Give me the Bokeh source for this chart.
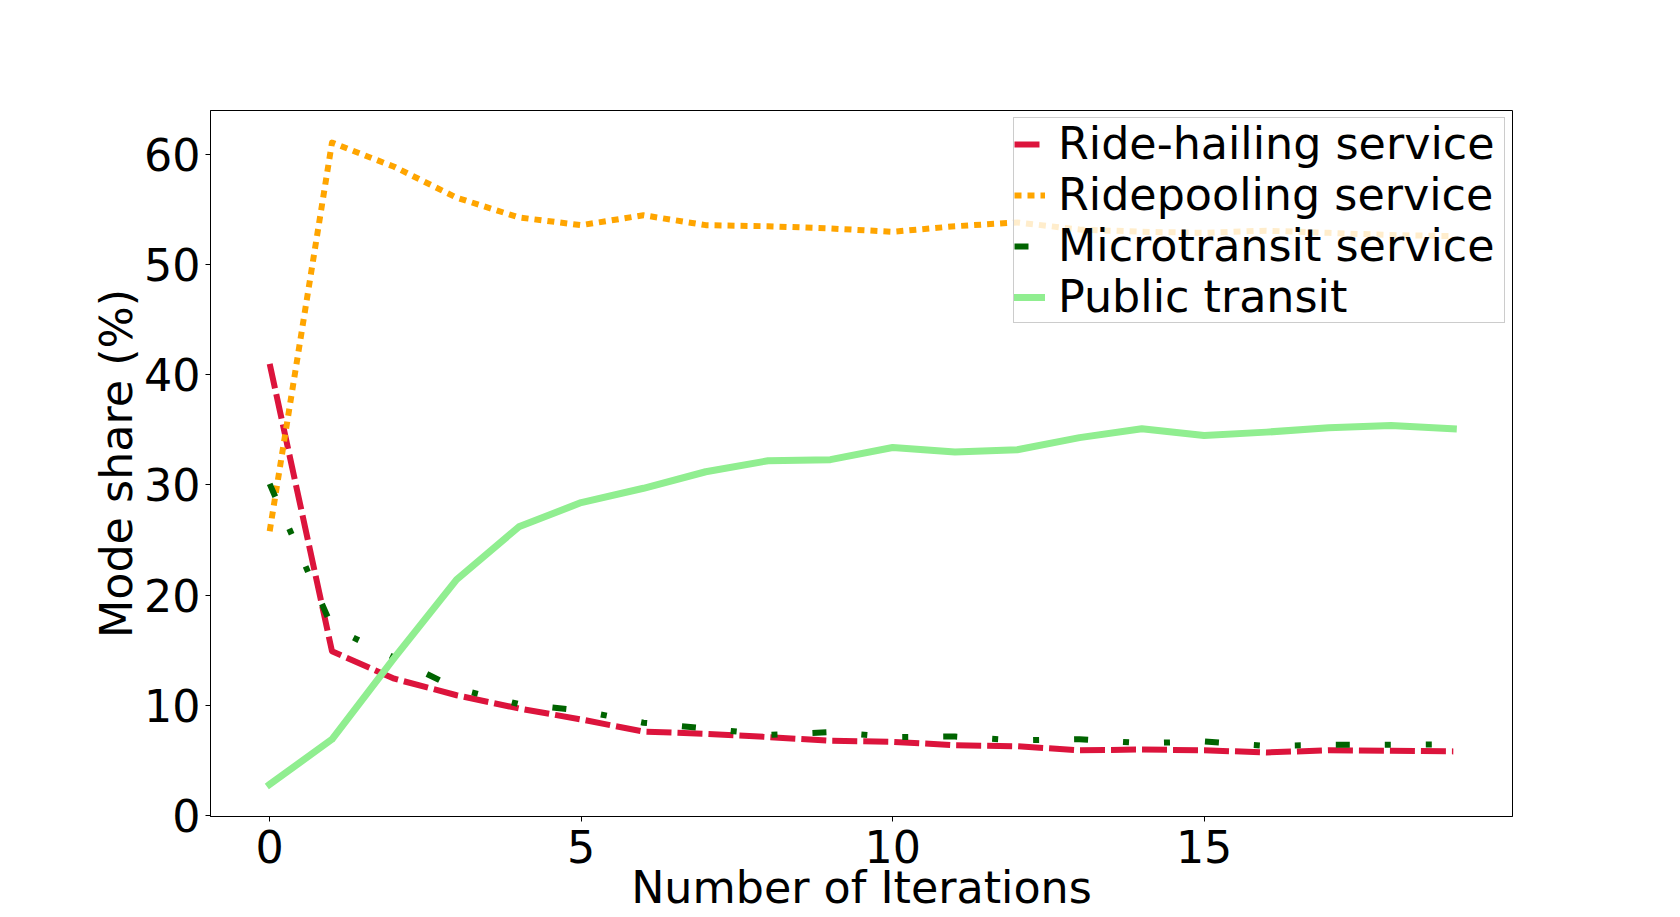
from bokeh.plotting import figure
from bokeh.models import Range1d, Legend, LegendItem, FixedTicker
from bokeh.embed import file_html
from bokeh.resources import INLINE

# ---- data ----
iterations = list(range(20))
ride_hailing = [41.0, 14.9, 12.4, 10.9, 9.7, 8.7, 7.6, 7.4, 7.1, 6.76,
                6.67, 6.36, 6.27, 5.9, 5.97, 5.9, 5.7, 5.9, 5.85, 5.8]
ridepooling = [25.8, 61.1, 58.9, 56.1, 54.3, 53.6, 54.5, 53.6, 53.5, 53.3,
               53.0, 53.5, 53.85, 53.2, 53.0, 52.9, 53.1, 52.9, 52.7, 52.6]
microtransit = [30.1, 17.1, 14.3, 11.5, 10.1, 9.5, 8.4, 7.9, 7.3, 7.55,
                7.1, 7.15, 6.8, 6.9, 6.55, 6.7, 6.3, 6.4, 6.4, 6.45]
public_transit = [2.8, 6.9, 14.3, 21.4, 26.2, 28.4, 29.7, 31.2, 32.2, 32.3,
                  33.4, 33.0, 33.2, 34.3, 35.1, 34.5, 34.8, 35.2, 35.4, 35.1]

series_labels = ["Ride-hailing service", "Ridepooling service",
                 "Microtransit service", "Public transit"]
x_ticks = [0, 5, 10, 15]
y_ticks = [0, 10, 20, 30, 40, 50, 60]
x_label = "Number of Iterations"
y_label = "Mode share (%)"

FONT = "DejaVu Sans"
FS = "44.4px"

# matplotlib-like 5% margins computed from the data
all_y = ride_hailing + ridepooling + microtransit + public_transit
xmin, xmax = min(iterations), max(iterations)
ymin, ymax = min(all_y), max(all_y)
xpad = 0.05 * (xmax - xmin)
ypad = 0.05 * (ymax - ymin)

p = figure(width=1660, height=917,
           x_range=Range1d(xmin - xpad, xmax + xpad),
           y_range=Range1d(ymin - ypad, ymax + ypad),
           output_backend="svg", toolbar_location=None,
           min_border_left=210, min_border_right=148,
           min_border_top=110, min_border_bottom=101)

p.background_fill_color = "white"
p.border_fill_color = "white"
p.outline_line_color = "black"
p.outline_line_width = 1
p.outline_line_alpha = 1.0
p.xgrid.visible = False
p.ygrid.visible = False

r_rh = p.line(iterations, ride_hailing, line_color="#DC143C", line_width=6,
              line_dash="25 6", line_join="round", line_cap="butt")
r_rp = p.line(iterations, ridepooling, line_color="#FFA500", line_width=6,
              line_dash="7 6", line_join="round", line_cap="butt")
r_mt = p.line(iterations, microtransit, line_color="#006400", line_width=6,
              line_dash="14 35 6 35 6 35", line_join="round", line_cap="butt")
r_pt = p.line(iterations, public_transit, line_color="#90EE90", line_width=7,
              line_join="round", line_cap="square")

# axes
for ax in (p.xaxis[0], p.yaxis[0]):
    ax.axis_line_color = "black"
    ax.axis_line_width = 1
    ax.major_tick_line_color = "black"
    ax.major_tick_line_width = 1
    ax.major_tick_out = 5
    ax.major_tick_in = 0
    ax.minor_tick_out = 0
    ax.minor_tick_in = 0
    ax.major_label_text_font = FONT
    ax.major_label_text_font_size = FS
    ax.major_label_text_color = "black"
    ax.axis_label_text_font = FONT
    ax.axis_label_text_font_size = FS
    ax.axis_label_text_font_style = "normal"
    ax.axis_label_text_color = "black"

p.xaxis[0].ticker = FixedTicker(ticks=x_ticks)
p.yaxis[0].ticker = FixedTicker(ticks=y_ticks)
p.xaxis[0].major_label_standoff = 8
p.xaxis[0].axis_label = x_label
p.xaxis[0].axis_label_standoff = -4
p.yaxis[0].major_label_standoff = 5
p.yaxis[0].axis_label = y_label
p.yaxis[0].axis_label_standoff = -1

legend = Legend(items=[
    LegendItem(label=series_labels[0], renderers=[r_rh]),
    LegendItem(label=series_labels[1], renderers=[r_rp]),
    LegendItem(label=series_labels[2], renderers=[r_mt]),
    LegendItem(label=series_labels[3], renderers=[r_pt]),
], location="top_right")
legend.margin = 7
legend.padding = 0
legend.spacing = -8
legend.glyph_width = 31
legend.glyph_height = 20
legend.label_height = 20
legend.label_width = 446
legend.label_standoff = 13
legend.label_text_font = FONT
legend.label_text_font_size = FS
legend.label_text_color = "black"
legend.background_fill_color = "white"
legend.background_fill_alpha = 0.8
legend.border_line_color = "#cccccc"
legend.border_line_width = 1
legend.border_line_alpha = 1.0
p.add_layout(legend)

open("out.html", "w").write(file_html(p, INLINE))
